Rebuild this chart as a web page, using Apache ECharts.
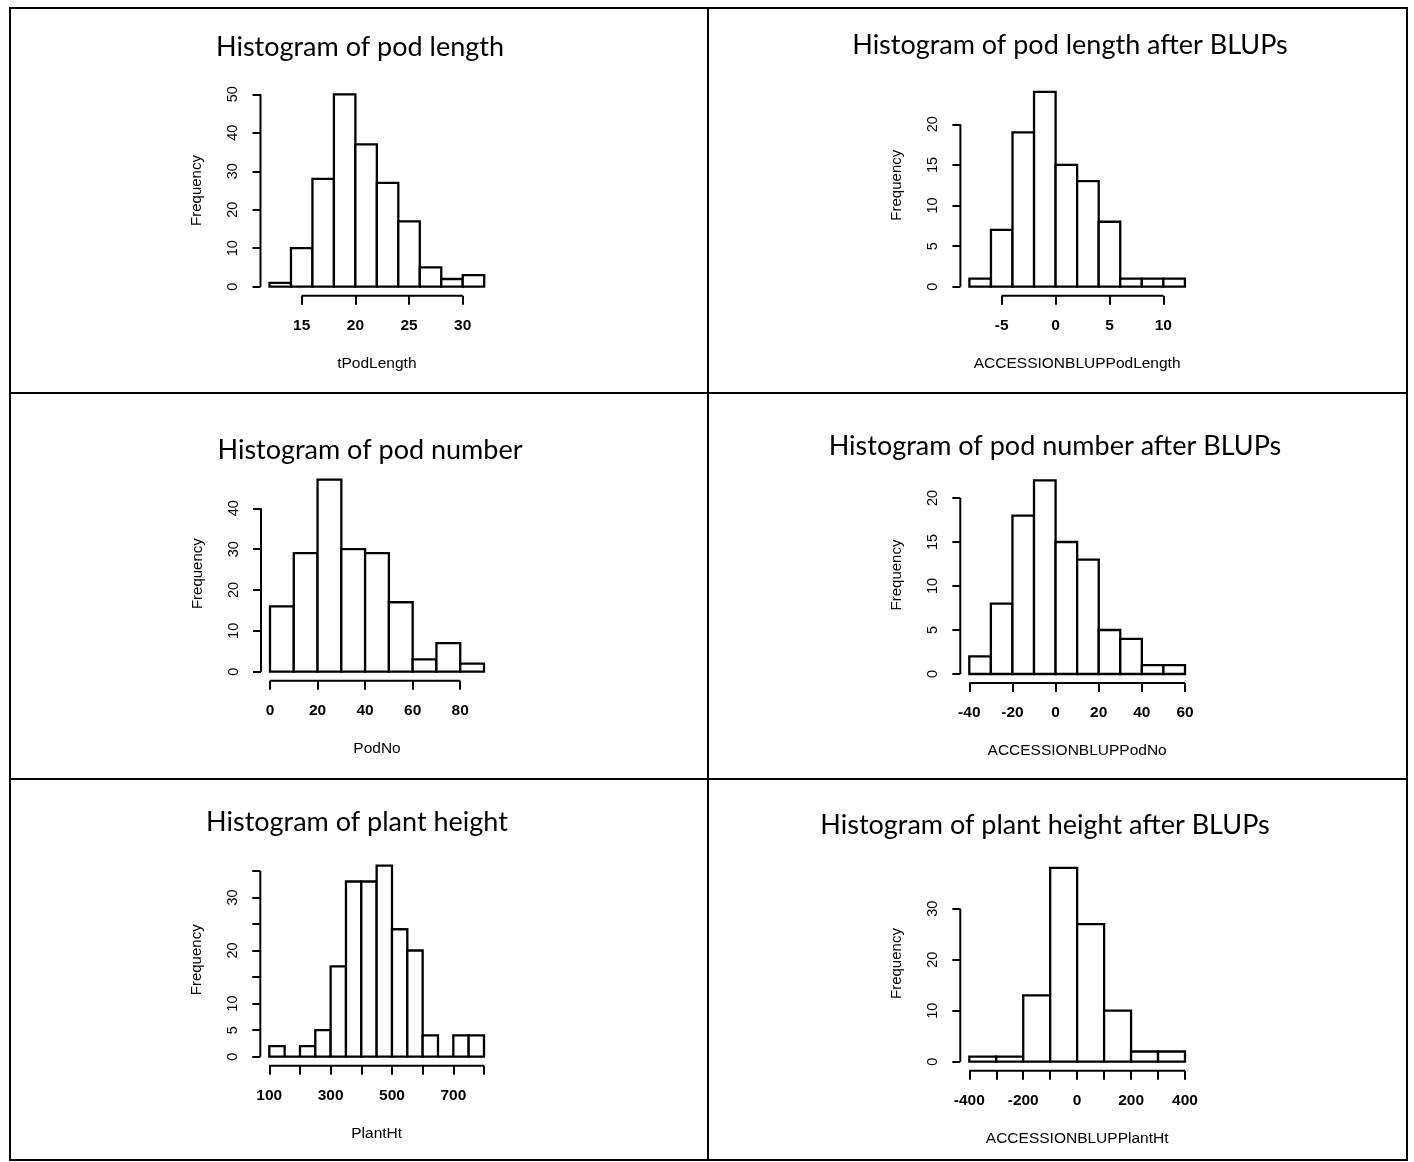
<!DOCTYPE html>
<html>
<head>
<meta charset="utf-8">
<script src="https://cdn.jsdelivr.net/npm/echarts@6/dist/echarts.min.js"></script>
<style>
  html, body { margin: 0; padding: 0; background: #fff; }
  #chart { width: 1414px; height: 1162px; }
</style>
</head>
<body>
<div id="chart"></div>
<script>
// histogram bin edges and counts
const podLengthEdges = [12, 14, 16, 18, 20, 22, 24, 26, 28, 30, 32]
const podLengthCounts = [1, 10, 28, 50, 37, 27, 17, 5, 2, 3]
const podLengthBlupEdges = [-8, -6, -4, -2, 0, 2, 4, 6, 8, 10, 12]
const podLengthBlupCounts = [1, 7, 19, 24, 15, 13, 8, 1, 1, 1]
const podNoEdges = [0, 10, 20, 30, 40, 50, 60, 70, 80, 90]
const podNoCounts = [16, 29, 47, 30, 29, 17, 3, 7, 2]
const podNoBlupEdges = [-40, -30, -20, -10, 0, 10, 20, 30, 40, 50, 60]
const podNoBlupCounts = [2, 8, 18, 22, 15, 13, 5, 4, 1, 1]
const plantHtEdges = [100, 150, 200, 250, 300, 350, 400, 450, 500, 550, 600, 650, 700, 750, 800]
const plantHtCounts = [2, 0, 2, 5, 17, 33, 33, 36, 24, 20, 4, 0, 4, 4]
const plantHtBlupEdges = [-400, -300, -200, -100, 0, 100, 200, 300, 400]
const plantHtBlupCounts = [1, 1, 13, 38, 27, 10, 2, 2]

// tick marks and tick labels
const podLengthXTicks = [15, 20, 25, 30]
const podLengthYTicks = [0, 10, 20, 30, 40, 50]
const podLengthBlupXTicks = [-5, 0, 5, 10]
const podLengthBlupYTicks = [0, 5, 10, 15, 20]
const podNoXTicks = [0, 20, 40, 60, 80]
const podNoYTicks = [0, 10, 20, 30, 40]
const podNoBlupXTicks = [-40, -20, 0, 20, 40, 60]
const podNoBlupYTicks = [0, 5, 10, 15, 20]
const plantHtXTicks = [100, 200, 300, 400, 500, 600, 700, 800]
const plantHtXLabels = [100, 300, 500, 700]
const plantHtYTicks = [0, 5, 10, 15, 20, 25, 30, 35]
const plantHtYLabels = [0, 5, 10, 20, 30]
const plantHtBlupXTicks = [-400, -300, -200, -100, 0, 100, 200, 300, 400]
const plantHtBlupXLabels = [-400, -200, 0, 200, 400]
const plantHtBlupYTicks = [0, 10, 20, 30]

const titles = [
  'Histogram of pod length', 'Histogram of pod length after BLUPs',
  'Histogram of pod number', 'Histogram of pod number after BLUPs',
  'Histogram of plant height', 'Histogram of plant height after BLUPs'
]
const xNames = ['tPodLength', 'ACCESSIONBLUPPodLength', 'PodNo', 'ACCESSIONBLUPPodNo', 'PlantHt', 'ACCESSIONBLUPPlantHt']

const panels = [
  { edges: podLengthEdges, counts: podLengthCounts, xTicks: podLengthXTicks, yTicks: podLengthYTicks, ymax: 50 },
  { edges: podLengthBlupEdges, counts: podLengthBlupCounts, xTicks: podLengthBlupXTicks, yTicks: podLengthBlupYTicks, ymax: 25 },
  { edges: podNoEdges, counts: podNoCounts, xTicks: podNoXTicks, yTicks: podNoYTicks, ymax: 48 },
  { edges: podNoBlupEdges, counts: podNoBlupCounts, xTicks: podNoBlupXTicks, yTicks: podNoBlupYTicks, ymax: 22.5 },
  { edges: plantHtEdges, counts: plantHtCounts, xTicks: plantHtXTicks, xLabels: plantHtXLabels, yTicks: plantHtYTicks, yLabels: plantHtYLabels, ymax: 36.5 },
  { edges: plantHtBlupEdges, counts: plantHtBlupCounts, xTicks: plantHtBlupXTicks, xLabels: plantHtBlupXLabels, yTicks: plantHtBlupYTicks, ymax: 38.5 }
]

// plot boxes in pixels and title centres
const boxes = [
  { left: 269.5, top: 94.3, width: 214.7, height: 192.4, tx: 360, ty: 47 },
  { left: 969.4, top: 83.7, width: 215.5, height: 203, tx: 1070, ty: 45 },
  { left: 270, top: 475.6, width: 214, height: 196.1, tx: 370, ty: 450 },
  { left: 969.3, top: 476, width: 215.7, height: 198, tx: 1055, ty: 446 },
  { left: 269.3, top: 862.9, width: 214.7, height: 193.8, tx: 357, ty: 822 },
  { left: 969.3, top: 865.4, width: 215.7, height: 196.3, tx: 1045, ty: 825 }
]
const axisGap = 9

const chart = echarts.init(document.getElementById('chart'))

function renderBars(params, api) {
  const lo = api.coord([api.value(0), 0])
  const hi = api.coord([api.value(1), api.value(2)])
  return {
    type: 'rect',
    shape: { x: lo[0], y: hi[1], width: hi[0] - lo[0], height: lo[1] - hi[1] },
    style: { fill: '#fff', stroke: '#000', lineWidth: 2.3 }
  }
}

// R style detached axis lines, from first to last tick
function renderAxes(params, api) {
  const cs = params.coordSys
  const x0 = api.coord([api.value(0), 0])[0]
  const x1 = api.coord([api.value(1), 0])[0]
  const y0 = api.coord([api.value(0), api.value(2)])[1]
  const y1 = api.coord([api.value(0), api.value(3)])[1]
  const by = cs.y + cs.height + axisGap
  const lx = cs.x - axisGap
  const st = { stroke: '#000', lineWidth: 2 }
  return {
    type: 'group',
    children: [
      { type: 'line', shape: { x1: x0, y1: by, x2: x1, y2: by }, style: st },
      { type: 'line', shape: { x1: lx, y1: y0, x2: lx, y2: y1 }, style: st }
    ]
  }
}

const grid = [], xAxis = [], yAxis = [], series = [], graphic = []

panels.forEach((p, i) => {
  const b = boxes[i]
  grid.push({ left: b.left, top: b.top, width: b.width, height: b.height })
  xAxis.push({
    type: 'value', gridIndex: i,
    min: p.edges[0], max: p.edges[p.edges.length - 1],
    offset: axisGap,
    axisLine: { show: false, onZero: false },
    splitLine: { show: false },
    axisTick: { customValues: p.xTicks, length: 9, lineStyle: { color: '#000', width: 2 } },
    axisLabel: {
      customValues: p.xLabels || p.xTicks, margin: 22,
      color: '#000', fontFamily: 'Liberation Sans', fontWeight: 'bold', fontSize: 15.5
    },
    name: xNames[i], nameLocation: 'middle', nameGap: 60,
    nameTextStyle: { color: '#000', fontFamily: 'Liberation Sans', fontSize: 15.5 }
  })
  yAxis.push({
    type: 'value', gridIndex: i,
    min: 0, max: p.ymax,
    offset: axisGap,
    axisLine: { show: false, onZero: false },
    splitLine: { show: false },
    axisTick: { customValues: p.yTicks, length: 8, lineStyle: { color: '#000', width: 2 } },
    axisLabel: {
      customValues: p.yLabels || p.yTicks, rotate: 90, margin: 20,
      color: '#000', fontFamily: 'Liberation Sans', fontSize: 14.5
    },
    name: 'Frequency', nameLocation: 'middle', nameGap: 56,
    nameTextStyle: { color: '#000', fontFamily: 'Liberation Sans', fontSize: 15 }
  })
  series.push({
    type: 'custom', xAxisIndex: i, yAxisIndex: i, silent: true,
    renderItem: renderBars,
    data: p.counts.map((c, k) => [p.edges[k], p.edges[k + 1], c])
  })
  series.push({
    type: 'custom', xAxisIndex: i, yAxisIndex: i, silent: true,
    renderItem: renderAxes,
    data: [[p.xTicks[0], p.xTicks[p.xTicks.length - 1], p.yTicks[0], p.yTicks[p.yTicks.length - 1]]]
  })
  graphic.push({
    type: 'text', x: b.tx, y: b.ty,
    style: {
      text: titles[i], fill: '#000', font: '27px Lato',
      align: 'center', verticalAlign: 'middle'
    }
  })
})

// panel frame
const frame = { stroke: '#000', lineWidth: 2, fill: null }
graphic.push(
  { type: 'rect', shape: { x: 10, y: 8, width: 1397, height: 1152 }, style: frame },
  { type: 'line', shape: { x1: 708, y1: 8, x2: 708, y2: 1160 }, style: frame },
  { type: 'line', shape: { x1: 10, y1: 393, x2: 1407, y2: 393 }, style: frame },
  { type: 'line', shape: { x1: 10, y1: 779, x2: 1407, y2: 779 }, style: frame }
)

chart.setOption({
  backgroundColor: '#fff',
  animation: false,
  grid: grid,
  xAxis: xAxis,
  yAxis: yAxis,
  series: series,
  graphic: graphic
})
</script>
</body>
</html>
